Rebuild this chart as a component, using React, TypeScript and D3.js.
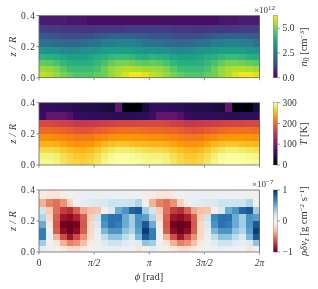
import React from "react";
import * as d3 from "d3";

const phiTicks = [0, Math.PI / 2, Math.PI, (3 * Math.PI) / 2, 2 * Math.PI];
const phiLabels = ["0", "π/2", "π", "3π/2", "2π"];
const zTicks = [0, 0.2, 0.4];
const zEdges = [0, 0.039, 0.077, 0.116, 0.157, 0.202, 0.249, 0.292, 0.342, 0.4];
const nCols = 32;

// Rows listed bottom to top, values in 1e12 cm^-3. 16-value rows repeat each half turn.
const density = [
  [5.7, 5.6, 5.3, 5.0, 4.8, 4.6, 4.6, 4.6, 4.8, 4.9, 5.3, 5.6, 5.9, 6.2, 6.2, 6.0],
  [5.4, 5.3, 5.1, 4.7, 4.4, 4.3, 4.3, 4.3, 4.5, 4.9, 5.3, 5.5, 5.6, 5.6, 5.5, 5.4],
  [4.8, 4.7, 4.5, 4.2, 4.0, 3.9, 3.9, 4.0, 4.2, 4.5, 4.8, 5.0, 5.0, 4.9, 4.8, 4.7],
  [4.1, 4.0, 3.9, 3.7, 3.6, 3.6, 3.6, 3.7, 3.9, 4.0, 4.2, 4.3, 4.3, 4.2, 4.0, 3.9],
  [3.2, 3.15, 3.1, 3.0, 2.95, 3.0, 3.1, 3.2, 3.3, 3.4, 3.5, 3.5, 3.5, 3.45, 3.35, 3.3],
  [2.3, 2.25, 2.2, 2.1, 2.05, 2.1, 2.2, 2.3, 2.45, 2.6, 2.7, 2.8, 2.8, 2.75, 2.6, 2.45],
  [1.7, 1.65, 1.6, 1.55, 1.5, 1.5, 1.5, 1.55, 1.65, 1.75, 1.85, 1.9, 1.9, 1.85, 1.8, 1.75],
  [1.15, 1.1, 1.1, 1.05, 1.0, 1.0, 0.95, 0.95, 1.0, 1.0, 1.0, 1.05, 1.1, 1.1, 1.15, 1.15],
  [0.5, 0.5, 0.45, 0.45, 0.4, 0.35, 0.3, 0.25, 0.25, 0.25, 0.25, 0.22, 0.2, 0.2, 0.2, 0.2,
   0.2, 0.2, 0.2, 0.2, 0.2, 0.22, 0.25, 0.25, 0.25, 0.25, 0.3, 0.35, 0.4, 0.45, 0.5, 0.5],
];

const temperature = [
  [292, 292, 288, 280, 272, 268, 265, 270, 280, 290, 297, 300, 300, 298, 296, 294],
  [288, 288, 285, 275, 268, 262, 260, 265, 275, 285, 295, 298, 298, 296, 292, 290],
  [272, 272, 268, 262, 255, 250, 248, 252, 262, 272, 280, 285, 285, 282, 278, 275],
  [248, 248, 245, 238, 233, 228, 228, 232, 240, 250, 255, 258, 258, 255, 252, 250],
  [225, 225, 222, 218, 215, 212, 210, 212, 218, 222, 228, 230, 232, 232, 230, 228],
  [200, 200, 198, 195, 190, 185, 182, 185, 190, 195, 200, 205, 205, 205, 205, 202],
  [172, 172, 170, 165, 162, 155, 155, 158, 160, 162, 165, 168, 170, 170, 172, 172],
  [55, 82, 85, 85, 75, 52, 50, 48, 48, 47, 46, 45, 45, 46, 48, 48],
  [50, 50, 50, 48, 46, 42, 40, 38, 38, 33, 30, 85, 8, 8, 8, 32],
];

const massFlux = [
  [0.1, 0.03, -0.02, -0.1, -0.18, -0.18, -0.1, -0.03, 0.02, 0.05, 0.08, 0.05, 0.03, 0.02, -0.12, 0.0],
  [0.35, 0.0, -0.12, -0.35, -0.5, -0.45, -0.3, -0.08, 0.03, 0.12, 0.2, 0.2, 0.12, 0.08, 0.12, 0.4],
  [0.7, 0.05, -0.35, -0.65, -0.85, -0.65, -0.45, -0.18, 0.05, 0.25, 0.4, 0.4, 0.25, 0.15, 0.45, 0.85],
  [0.7, 0.02, -0.6, -0.9, -1.0, -0.9, -0.6, -0.2, 0.08, 0.45, 0.6, 0.6, 0.4, 0.3, 0.55, 0.95],
  [0.5, -0.1, -0.62, -0.95, -1.0, -0.95, -0.62, -0.2, 0.15, 0.6, 0.75, 0.7, 0.5, 0.35, 0.6, 0.85],
  [0.3, -0.2, -0.6, -0.85, -0.9, -0.8, -0.6, -0.25, 0.2, 0.65, 0.75, 0.75, 0.5, 0.35, 0.6, 0.55],
  [0.18, -0.25, -0.55, -0.7, -0.75, -0.6, -0.38, -0.3, -0.28, -0.03, 0.15, 0.5, 0.6, 0.8, 0.85, 0.35],
  [-0.35, -0.5, -0.55, -0.45, -0.22, 0.0, 0.08, 0.12, 0.15, 0.15, 0.2, 0.2, 0.2, 0.2, 0.3, 0.02],
  [-0.06, -0.12, -0.12, -0.06, 0.02, 0.04, 0.05, 0.05, 0.05, 0.05, 0.05, 0.05, 0.03, 0.03, 0.03, -0.04],
];

const densityTicks = [0, 2.5, 5];
const densityTickLabels = ["0.0", "2.5", "5.0"];
const temperatureTicks = [0, 100, 200, 300];
const fluxTicks = [-1, 0, 1];
const fluxTickLabels = ["−1", "0", "1"];

const FONT = "'Liberation Serif', serif";
const TXT = "#333";
const SPINE = "#666";
const LEFT = 39;
const RIGHT = 259.5;
const CB_L = 273.3;
const CB_R = 277.3;
const TICK_FS = 9.5;
const LABEL_FS = 10.5;

const x = d3.scaleLinear().domain([0, 2 * Math.PI]).range([LEFT, RIGHT]);
const it = (s: string) => <tspan fontStyle="italic">{s}</tspan>;

type PanelProps = {
  top: number;
  bottom: number;
  rows: number[][];
  color: (v: number) => string;
  domain: [number, number];
  cbTicks: number[];
  cbLabels: string[];
  showX: boolean;
  id: string;
};

function Panel({ top, bottom, rows, color, domain, cbTicks, cbLabels, showX, id }: PanelProps) {
  const z = d3.scaleLinear().domain([0, 0.4]).range([bottom, top]);
  const cb = d3.scaleLinear().domain(domain).range([bottom, top]);
  const dphi = (2 * Math.PI) / nCols;
  const stops = d3.range(0, 1.0001, 0.05);
  return (
    <g>
      <defs>
        <linearGradient id={id} x1="0" y1="1" x2="0" y2="0">
          {stops.map((t) => (
            <stop key={t} offset={t} stopColor={color(domain[0] + t * (domain[1] - domain[0]))} />
          ))}
        </linearGradient>
      </defs>
      <g shapeRendering="crispEdges">
        {rows.map((row, r) =>
          d3.range(nCols).map((c) => (
            <rect
              key={`${r}-${c}`}
              x={x(c * dphi)}
              width={x((c + 1) * dphi) - x(c * dphi) + 0.4}
              y={z(zEdges[r + 1])}
              height={z(zEdges[r]) - z(zEdges[r + 1]) + 0.4}
              fill={color(row[c % row.length])}
            />
          ))
        )}
      </g>
      <rect x={LEFT} y={top} width={RIGHT - LEFT} height={bottom - top} fill="none" stroke={SPINE} strokeWidth={0.8} />
      {phiTicks.map((t, i) => (
        <g key={i}>
          <line x1={x(t)} x2={x(t)} y1={bottom} y2={bottom + 2.6} stroke={SPINE} strokeWidth={0.7} />
          {showX && (
            <text x={x(t)} y={bottom + 14} textAnchor="middle" fontSize={TICK_FS} fontFamily={FONT} fill={TXT} fontStyle={i === 0 ? "normal" : "italic"}>
              {phiLabels[i]}
            </text>
          )}
        </g>
      ))}
      {zTicks.map((t) => (
        <g key={t}>
          <line x1={LEFT - 2.6} x2={LEFT} y1={z(t)} y2={z(t)} stroke={SPINE} strokeWidth={0.7} />
          <text x={LEFT - 4} y={z(t) + 3.1} textAnchor="end" fontSize={TICK_FS} fontFamily={FONT} fill={TXT} textLength={14} lengthAdjust="spacing">
            {d3.format(".1f")(t)}
          </text>
        </g>
      ))}
      <text transform={`translate(16,${(top + bottom) / 2}) rotate(-90)`} textAnchor="middle" fontSize={LABEL_FS} fontFamily={FONT} fill={TXT} textLength={20} lengthAdjust="spacing">
        {it("z/R")}
      </text>
      <rect x={CB_L} y={top} width={CB_R - CB_L} height={bottom - top} fill={`url(#${id})`} stroke={SPINE} strokeWidth={0.4} />
      {cbTicks.map((t, i) => (
        <g key={t}>
          <line x1={CB_R} x2={CB_R + 2.6} y1={cb(t)} y2={cb(t)} stroke={SPINE} strokeWidth={0.7} />
          <text x={CB_R + 5.3} y={cb(t) + 3.1} fontSize={TICK_FS} fontFamily={FONT} fill={TXT}>
            {cbLabels[i]}
          </text>
        </g>
      ))}
    </g>
  );
}

const sup = (s: string) => (
  <tspan dy={-3.5} fontSize={7}>
    {s}
  </tspan>
);
const after = (s: string) => <tspan dy={3.5}>{s}</tspan>;

export default function App() {
  const viridis = d3.scaleSequential(d3.interpolateViridis).domain([0, 6.3]);
  const inferno = d3.scaleSequential(d3.interpolateInferno).domain([0, 300]);
  const rdbu = d3.scaleSequential(d3.interpolateRdBu).domain([-1, 1]);
  return (
    <svg width={318} height={289} style={{ position: "absolute", left: 0, top: 0, background: "#fff" }}>
      <defs>
        <filter id="soft" x="0" y="0" width="100%" height="100%">
          <feGaussianBlur stdDeviation="0.4" />
        </filter>
      </defs>
      <g filter="url(#soft)">
        <rect width={318} height={289} fill="#fff" />
        <Panel id="cb1" top={15.5} bottom={77.7} rows={density} color={viridis} domain={[0, 6.3]} cbTicks={densityTicks} cbLabels={densityTickLabels} showX={false} />
        <Panel id="cb2" top={102.7} bottom={165} rows={temperature} color={inferno} domain={[0, 300]} cbTicks={temperatureTicks} cbLabels={temperatureTicks.map(String)} showX={false} />
        <Panel id="cb3" top={190} bottom={252} rows={massFlux} color={rdbu} domain={[-1, 1]} cbTicks={fluxTicks} cbLabels={fluxTickLabels} showX={true} />
        <text x={254} y={13} fontSize={9} fontFamily={FONT} fill={TXT}>
          ×10{sup("12")}
        </text>
        <text x={252} y={187} fontSize={9} fontFamily={FONT} fill={TXT}>
          ×10{sup("−7")}
        </text>
        <text transform="translate(307,47) rotate(-90)" textAnchor="middle" fontSize={LABEL_FS} fontFamily={FONT} fill={TXT}>
          {it("n")}
          <tspan dy={1.5} fontSize={7.5}>0</tspan>
          <tspan dy={-1.5}> [cm</tspan>
          {sup("−3")}
          {after("]")}
        </text>
        <text transform="translate(307,134) rotate(-90)" textAnchor="middle" fontSize={LABEL_FS} fontFamily={FONT} fill={TXT}>
          {it("T")} [K]
        </text>
        <text transform="translate(307,221) rotate(-90)" textAnchor="middle" fontSize={LABEL_FS} fontFamily={FONT} fill={TXT}>
          {it("ρδv")}
          <tspan dy={1.5} fontSize={7.5} fontStyle="italic">z</tspan>
          <tspan dy={-1.5}> [g cm</tspan>
          {sup("−2")}
          {after(" s")}
          {sup("−1")}
          {after("]")}
        </text>
        <text x={149} y={280} textAnchor="middle" fontSize={LABEL_FS} fontFamily={FONT} fill={TXT}>
          {it("ϕ")} [rad]
        </text>
      </g>
    </svg>
  );
}
